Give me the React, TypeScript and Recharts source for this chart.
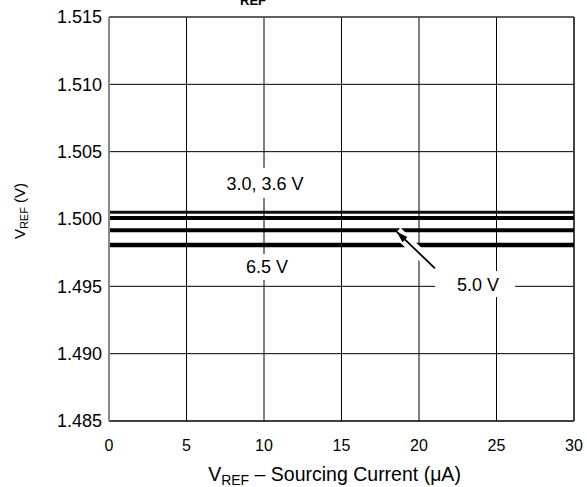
import React from 'react';
import { LineChart, CartesianGrid, XAxis, YAxis, Line, ReferenceLine, ReferenceDot } from 'recharts';

// sourcing current (uA)
const current = [0, 5, 10, 15, 20, 25, 30];
// VREF for each supply voltage
const vref30 = [1.5005, 1.5005, 1.5005, 1.5005, 1.5005, 1.5005, 1.5005];
const vref36 = [1.50007, 1.50007, 1.50007, 1.50007, 1.50007, 1.50007, 1.50007];
const vref50 = [1.49916, 1.49916, 1.49916, 1.49916, 1.49916, 1.49916, 1.49916];
const vref65 = [1.49807, 1.49807, 1.49807, 1.49807, 1.49807, 1.49807, 1.49807];

const xTicks = [0, 5, 10, 15, 20, 25, 30];
const yTicks = [1.485, 1.49, 1.495, 1.5, 1.505, 1.51, 1.515];

const data = current.map((c, i) => ({
  current: c,
  v30: vref30[i],
  v36: vref36[i],
  v50: vref50[i],
  v65: vref65[i],
}));

const font = '"Liberation Sans", Arial, sans-serif';

const XLabel = (props: any) => {
  const { x, y, width } = props.viewBox;
  return (
    <text x={x + width / 2 - 7} y={y + 60} textAnchor="middle" fontFamily={font} fontSize={19.5} fill="#000">
      <tspan>V</tspan>
      <tspan fontSize={14} dy={4}>REF</tspan>
      <tspan dy={-4}> – Sourcing Current (μA)</tspan>
    </text>
  );
};

const YLabel = (props: any) => {
  const { y, height } = props.viewBox;
  const cx = 25;
  const cy = y + height / 2 - 8;
  return (
    <text x={cx} y={cy} textAnchor="middle" fontFamily={font} fontSize={15} fill="#000" transform={`rotate(-90 ${cx} ${cy})`}>
      <tspan>V</tspan>
      <tspan fontSize={11} dy={3}>REF</tspan>
      <tspan dy={-3}>  (V)</tspan>
    </text>
  );
};

const boxLabel = (text: string, w: number, h: number, dx: number) => (props: any) => {
  const { cx, cy } = props;
  return (
    <g>
      <rect x={cx - w / 2 - dx} y={cy - h / 2} width={w} height={h} fill="#fff" />
      <text x={cx} y={cy + 6.5} textAnchor="middle" fontFamily={font} fontSize={18} fill="#000">{text}</text>
    </g>
  );
};

const Arrow = (props: any) => {
  const { x1, y1, x2, y2 } = props;
  const ang = Math.atan2(y1 - y2, x1 - x2);
  const L = 12;
  const s = 0.3;
  const p1 = `${x1},${y1}`;
  const p2 = `${x1 - L * Math.cos(ang - s)},${y1 - L * Math.sin(ang - s)}`;
  const p3 = `${x1 - L * Math.cos(ang + s)},${y1 - L * Math.sin(ang + s)}`;
  return (
    <g>
      <line x1={x1} y1={y1} x2={x2} y2={y2} stroke="#fff" strokeWidth={11} />
      <line x1={x1} y1={y1} x2={x2} y2={y2} stroke="#000" strokeWidth={1.8} />
      <polygon points={`${p1} ${p2} ${p3}`} fill="#000" />
    </g>
  );
};

const App: React.FC = () => {
  return (
    <div style={{ position: 'absolute', left: 0, top: 0, width: 587, height: 487, background: '#fff', overflow: 'hidden' }}>
      <LineChart width={587} height={487} data={data} margin={{ top: 17, right: 13, bottom: 0, left: 0 }}>
        <CartesianGrid stroke="#000" strokeWidth={1} horizontalValues={yTicks} verticalValues={xTicks} />
        <XAxis
          dataKey="current"
          type="number"
          domain={[0, 30]}
          ticks={xTicks}
          tickSize={0}
          tickMargin={19}
          height={66}
          axisLine={{ stroke: '#000' }}
          tick={{ fontFamily: font, fontSize: 16, fill: '#000' }}
          label={<XLabel />}
        />
        <YAxis
          type="number"
          domain={[1.485, 1.515]}
          ticks={yTicks}
          width={109}
          tickSize={0}
          tickMargin={7}
          allowDataOverflow
          axisLine={{ stroke: '#888', strokeWidth: 2 }}
          tickFormatter={(v: number) => v.toFixed(3)}
          tick={{ fontFamily: font, fontSize: 18, fill: '#000' }}
          label={<YLabel />}
        />
        <ReferenceLine x={30} stroke="#444" strokeWidth={2} />
        <ReferenceLine y={1.515} stroke="#555" strokeWidth={1.5} />
        <Line dataKey="v30" stroke="#111" strokeWidth={3} dot={false} isAnimationActive={false} />
        <Line dataKey="v36" stroke="#000" strokeWidth={4} dot={false} isAnimationActive={false} />
        <Line dataKey="v50" stroke="#000" strokeWidth={4} dot={false} isAnimationActive={false} />
        <Line dataKey="v65" stroke="#000" strokeWidth={4.5} dot={false} isAnimationActive={false} />
        <ReferenceLine
          segment={[{ x: 18.56, y: 1.49906 }, { x: 21.03, y: 1.49634 }]}
          shape={Arrow}
        />
        <ReferenceDot x={10.06} y={1.50267} r={0} shape={boxLabel('3.0, 3.6 V', 84, 30, 0)} />
        <ReferenceDot x={10.19} y={1.49644} r={0} shape={boxLabel('6.5 V', 50, 26, 0)} />
        <ReferenceDot x={23.81} y={1.49517} r={0} shape={boxLabel('5.0 V', 80, 26, 3)} />
      </LineChart>
      <svg width={587} height={12} style={{ position: 'absolute', left: 0, top: 0 }}>
        <text x={228} y={0} fontFamily={font} fontSize={18} fontWeight="bold" fill="#000">
          <tspan>V</tspan>
          <tspan fontSize={13} dy={4.5}>REF</tspan>
          <tspan dy={-4.5} fill="#999"> vs. Load Current</tspan>
        </text>
      </svg>
    </div>
  );
};

export default App;
